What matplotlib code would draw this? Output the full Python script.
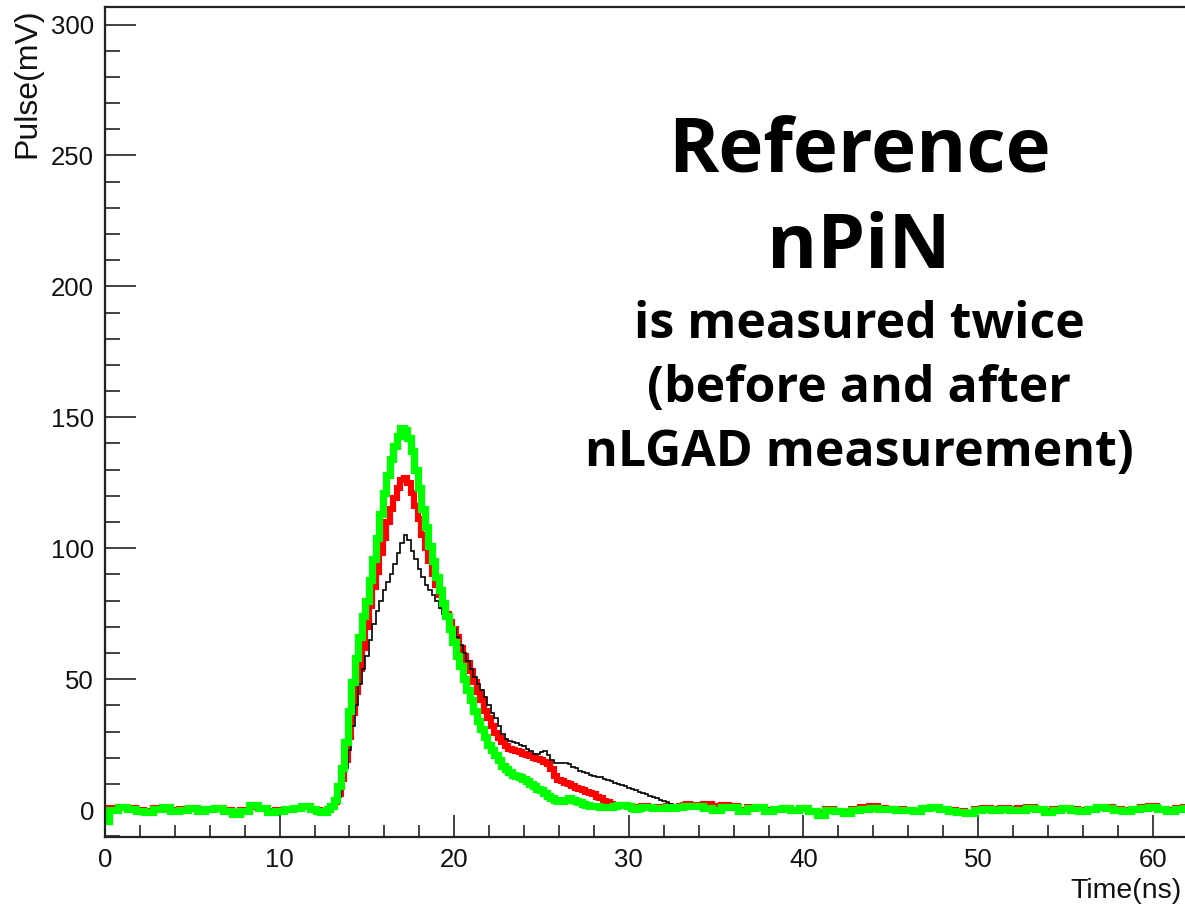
import numpy as np
import matplotlib
matplotlib.use("Agg")
import matplotlib.pyplot as plt
from matplotlib.ticker import MultipleLocator

# time bins (ns): coarse baseline before/after the pulse, fine bins across the pulse
t_pre = np.round(np.arange(0.0, 12.0, 0.5), 1)
t_pulse = np.round(np.arange(12.0, 34.0, 0.2), 1)
t_post = np.round(np.arange(34.0, 62.01, 0.5), 1)

# green: second nPiN measurement
green_pre = [-4, 0, 1.3, 0.5, -0.5, -0.8, 0.5, 1.0, -0.5, 0, 0.8, -0.3,
             0.3, 0.6, -0.3, -1.5, -0.3, 1.8, 0.8, -0.8, -0.3, 0.3, 0.8, 1.5]
green_pulse = [0.3, -0.5, -0.8, -0.6, 0.3, 1.5, 4, 9, 16, 26,
               38, 49, 58, 66, 74, 80, 88, 96, 104, 113,
               121, 128, 134, 139, 143, 146, 145, 142, 137, 130,
               123, 115, 108, 101, 95, 89, 84, 79, 74, 69,
               64, 59, 55, 50, 46, 42, 38, 34, 31, 28,
               25, 23, 21, 19, 17, 15.5, 14.5, 13.5, 13, 12.5,
               12, 11, 10, 9, 8, 7.5, 6.5, 5.5, 4.5, 4,
               3.5, 3.5, 4, 4.5, 4, 3.5, 3, 2.5, 2, 1.5,
               1.5, 1.5, 1.2, 1.0, 1.2, 1.2, 1.5, 1.8, 2.0, 2.0,
               1.5, 0.8, 0.5, 0.8, 1.0, 1.2, 1.0, 0.8, 0.8, 0.8,
               0.8, 1.0, 0.8, 0.8, 1.0, 1.2, 1.4, 1.5, 1.5, 1.5]
green_post = [1.5, 0.8, 0.2, 1.2, 1.0, -0.4, 0.8, 1.0, -0.4, 0.3,
              0.6, -0.1, 0.6, -0.5, -1.8, 0.2, -0.5, -1.1, 0, 0.5,
              0.8, 0.5, 0.3, 0.2, 0, -0.4, 0.6, 1.2, 0.3, -0.4,
              -0.8, -1.3, 0.2, 0.5, 0.2, 0.5, 0, 0.2, 0.8, 0.3,
              -0.7, 0, 0.6, 0.2, -0.4, 0.3, 1.0, 0.8, 0, -0.4,
              0.3, 0.8, 1.2, 0.3, -0.4, 0.5, 0.8]

# red: first nPiN measurement
red_pre = [-3, 0.8, 1.0, 0.8, 0, -0.5, 0.8, 0.5, 0, 0.5, 0.5, 0,
           0.5, 0.8, 0, -1, 0, 1.2, 0.5, -0.3, 0, 0.5, 0.5, 1.0]
red_pulse = [0.5, 0, -0.5, -0.3, 0.3, 1, 3, 6, 12, 19,
             28, 37, 45, 54, 62, 70, 78, 85, 91, 98,
             104, 110, 115, 119, 123, 126, 127, 125, 121, 116,
             111, 105, 100, 95, 90, 86, 82, 78, 75, 72,
             69, 66, 62, 59, 56, 53, 49, 45, 42, 38,
             35, 32, 29.5, 27.5, 26, 24.5, 23.5, 23, 22.5, 22,
             21.5, 21, 20.5, 20, 19.5, 19, 18.5, 17.5, 15.5, 13,
             11.5, 11, 10.5, 10, 9, 8.5, 8, 7.5, 7, 6.5,
             6, 5, 4.5, 3.5, 3, 2.5, 2, 2, 1.8, 1.5,
             1.5, 1.2, 1.0, 1.2, 1.5, 1.5, 1.2, 1.0, 1.0, 1.2,
             1.2, 1.5, 1.2, 1.0, 1.2, 1.5, 2.0, 2.2, 2.0, 1.8]
red_post = [2.0, 2.5, 1.5, 2.0, 1.5, 0, 1.0, 1.2, 0, 0.5,
            0.8, 0.2, 0.8, -0.2, -1.2, 0.5, -0.2, -0.6, 0.3, 1.2,
            1.5, 0.8, 0.5, 0.5, 0.2, -0.2, 0.8, 1.2, 0.5, 0,
            -0.5, -1.0, 0.5, 0.8, 0.5, 0.8, 0.3, 0.8, 1.2, 0.5,
            -0.3, 0.3, 0.8, 0.5, 0, 0.5, 1.2, 1.0, 0.3, 0,
            0.5, 1.0, 1.5, 0.5, 0, 0.8, 1.0]

# black: nLGAD
black_pre = [-2, 0.5, 0.8, 0.3, -0.3, -0.3, 0.6, 0.6, -0.2, 0.3, 0.5, 0,
             0.2, 0.5, 0, -0.8, 0.2, 1.2, 0.5, -0.5, 0, 0.3, 0.6, 0.8]
black_pulse = [0.3, -0.3, -0.5, -0.3, 0.3, 1, 2.5, 5, 10, 16,
               23, 32, 40, 48, 54, 59, 65, 71, 76, 80,
               84, 87, 90, 94, 98, 102, 105, 103, 99, 96,
               92, 89, 86, 84, 82, 80, 77, 75, 73, 71,
               69, 66, 63, 60, 57, 54, 51, 48, 46, 43,
               40, 37, 35, 32, 29, 27, 26.5, 26, 25.5, 25,
               24.5, 23.5, 22.5, 21.5, 21.5, 22, 22.5, 21, 19, 18,
               18, 18, 18, 17.5, 16.5, 16, 15, 14.5, 14, 13.5,
               13, 12.5, 12.5, 12, 11.5, 11, 10.5, 10, 9.5, 9,
               8.5, 8, 7.5, 7, 6.5, 6, 5.5, 5, 4.5, 4,
               3.5, 3, 2.5, 2, 2, 1.5, 1.5, 1.5, 1.5, 1.5]
black_post = [1.5, 1.0, 0.5, 1.0, 0.8, -0.2, 0.6, 0.8, -0.2, 0.3,
              0.5, 0, 0.5, -0.3, -1.2, 0.2, -0.3, -0.8, 0.2, 0.5,
              0.6, 0.4, 0.3, 0.2, 0, -0.3, 0.5, 1.0, 0.3, -0.3,
              -0.6, -1.0, 0.2, 0.4, 0.2, 0.4, 0, 0.2, 0.6, 0.2,
              -0.5, 0, 0.5, 0.2, -0.3, 0.2, 0.8, 0.6, 0, -0.3,
              0.2, 0.6, 1.0, 0.2, -0.3, 0.4, 0.6]

x_ticks = [0, 10, 20, 30, 40, 50, 60]
y_ticks = [0, 50, 100, 150, 200, 250, 300]
note_big = ["Reference", "nPiN"]
note_small = ["is measured twice", "(before and after", "nLGAD measurement)"]


def main():
    t = np.concatenate([t_pre, t_pulse, t_post])
    series = [
        (red_pre + red_pulse + red_post, "#ff0000", 4.4),
        (black_pre + black_pulse + black_post, "black", 1.2),
        (green_pre + green_pulse + green_post, "#00ff00", 5.2),
    ]

    fig = plt.figure(figsize=(11.85, 9.1), dpi=100)
    ax = fig.add_axes([105 / 1185, 1 - 836.5 / 910, 1135 / 1185, 829.5 / 910])

    for vals, col, lw in series:
        ax.plot(t, vals, drawstyle="steps-mid", color=col, linewidth=lw,
                solid_joinstyle="miter")

    ax.set_xlim(0, 65)
    ax.set_ylim(-10.1, 306.7)

    ax.xaxis.set_minor_locator(MultipleLocator(2))
    ax.yaxis.set_minor_locator(MultipleLocator(10))
    ax.set_xticks(x_ticks)
    ax.set_yticks(y_ticks)
    ax.set_xticklabels([str(v) for v in x_ticks])
    ax.set_yticklabels([str(v) for v in y_ticks])

    ax.tick_params(axis="both", which="both", direction="in",
                   top=False, right=False, width=1.2, colors="#222222",
                   labelcolor="#111111")
    ax.tick_params(axis="y", which="major", length=22, pad=8, labelsize=18.5)
    ax.tick_params(axis="y", which="minor", length=11)
    ax.tick_params(axis="x", which="major", length=16, pad=8, labelsize=18.5)
    ax.tick_params(axis="x", which="minor", length=8.5)
    for lab in ax.get_xticklabels() + ax.get_yticklabels():
        lab.set_family("Liberation Sans")

    for side in ["left", "bottom", "top"]:
        ax.spines[side].set_linewidth(1.6)
        ax.spines[side].set_color("#222222")
    ax.spines["right"].set_visible(False)

    # axis titles placed ROOT-style at the axis ends
    fig.text(27 / 1185, 1 - 8 / 910, "Pulse(mV)", rotation=90, ha="center",
             va="top", fontsize=23, family="Liberation Sans", color="#111111")
    fig.text(1182 / 1185, 1 - 898 / 910, "Time(ns)", ha="right",
             va="baseline", fontsize=20.5, family="Liberation Sans",
             color="#111111")

    # annotation
    x_c = 859 / 1185
    for txt, base in zip(note_big, [172, 268]):
        fig.text(x_c, 1 - base / 910, txt, ha="center", va="baseline",
                 fontsize=55, fontweight="bold", family="Open Sans")
    for txt, base in zip(note_small, [338, 402, 466]):
        fig.text(x_c, 1 - base / 910, txt, ha="center", va="baseline",
                 fontsize=36, fontweight="bold", family="Open Sans")

    fig.savefig("out.png", dpi=100)


if __name__ == "__main__":
    main()
